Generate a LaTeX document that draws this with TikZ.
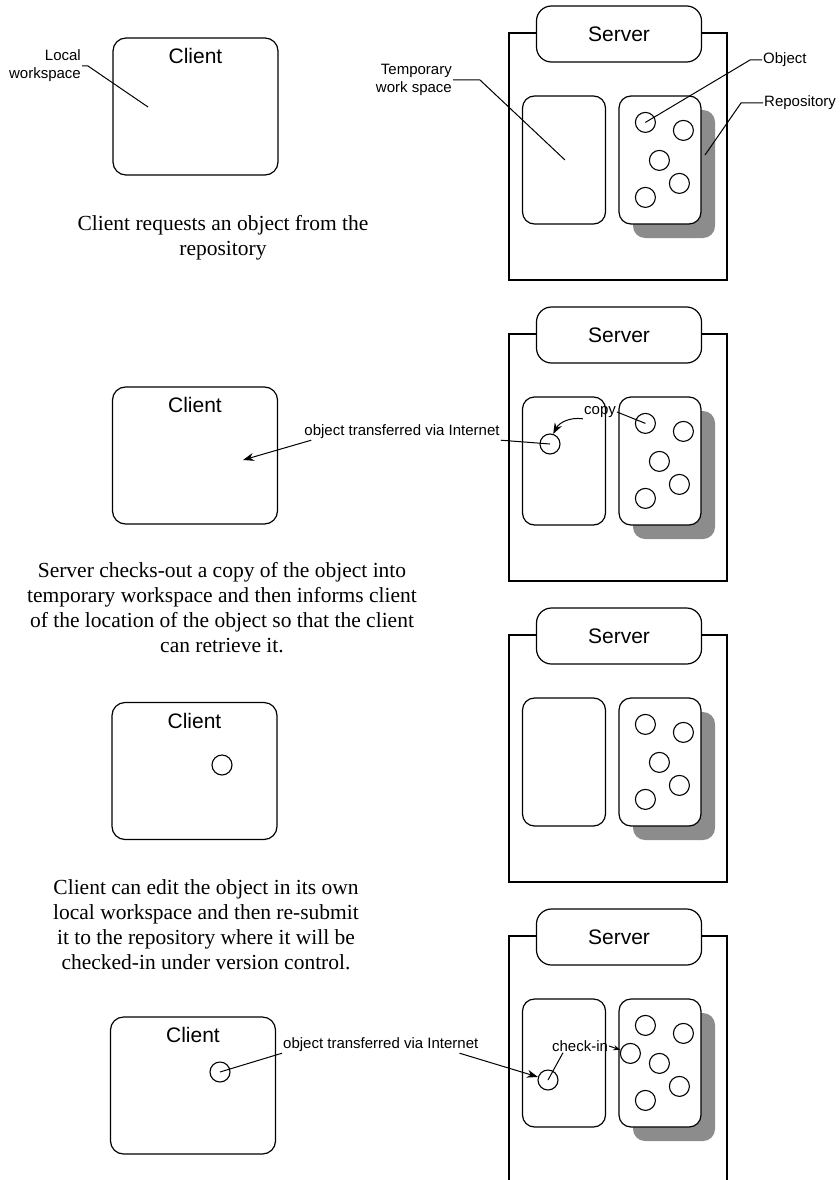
\documentclass[tikz,border=0pt]{standalone}
\usepackage{fontspec}
\setmainfont{Liberation Serif}
\setsansfont{Liberation Sans}
\usepackage{tikz}
\usetikzlibrary{arrows.meta,positioning,calc}

\begin{document}
\begin{tikzpicture}[
    x=1pt, y=-1pt,
    client/.style={rectangle, draw, line width=1.2pt, rounded corners=13pt, minimum width=165pt, minimum height=137pt},
    srvframe/.style={rectangle, draw, line width=1.2pt, fill=white, minimum width=218pt, minimum height=247pt},
    srvbox/.style={rectangle, draw, line width=1.2pt, fill=white, rounded corners=15pt, minimum width=165pt, minimum height=56pt, font=\sffamily\fontsize{21}{25}\selectfont},
    tmpbox/.style={rectangle, draw, line width=1.2pt, fill=white, rounded corners=12pt, minimum width=83pt, minimum height=128pt},
    repobox/.style={tmpbox, minimum width=82pt},
    repshadow/.style={rectangle, fill=black!45, rounded corners=12pt, minimum width=82pt, minimum height=128pt},
    obj/.style={circle, draw, line width=1.1pt, fill=white, minimum size=20pt, inner sep=0pt},
    bigtxt/.style={font=\sffamily\fontsize{21}{25}\selectfont, inner sep=1pt},
    lbl/.style={font=\sffamily\fontsize{15}{18}\selectfont, inner sep=1pt},
    capt/.style={font=\rmfamily\fontsize{21.5}{25}\selectfont, align=center},
    lead/.style={line width=1pt},
    arrow/.style={-{Stealth[length=11pt, width=8pt]}, line width=1pt}
]
    \useasboundingbox (0,0) rectangle (840,1180);

    % server side, same frame four times
    \foreach \i/\t in {1/33,2/334,3/635,4/936} {
        \node [srvframe] (frm\i) at (618,\t+123.5) {};
        \node [repshadow] (shd\i) at (674,\t+141) {};
        \node [tmpbox] (tmp\i) at (564,\t+127) {};
        \node [repobox] (repo\i) at (660,\t+127) {};
        \node [srvbox] (srv\i) at (619,\t+1) {Server};
        \foreach \j/\dx/\dy in {1/27/27,2/65/35,3/41/65,4/61/88,5/27/102}
            \node [obj] (ob\i\j) at ($(repo\i.north west)+(\dx,\dy)$) {};
    }
    \node [obj] (ob46) at ($(repo4.north west)+(12,55)$) {};

    % step 1
    \node [client] (cl1) at (195.5,106.5) {};
    \node [bigtxt, below=10pt of cl1.north] (clt1) {Client};
    \node [lbl, align=right, anchor=east] (lws) at (82,66) {Local\\workspace};
    \coordinate (lwpt) at (148,107);
    \draw [lead] (lws.east) -- ++(6,0) -- (lwpt);
    \node [lbl, align=right, anchor=east] (tws) at (453,80) {Temporary\\work space};
    \coordinate (twpt) at (565,160);
    \draw [lead] (tws.east) -- ++(27,0) -- (twpt);
    \node [lbl, anchor=west] (objl) at (762,60) {Object};
    \draw [lead] (objl.west) -- ++(-12,0) -- (ob11.center);
    \node [lbl, anchor=west] (repl) at (763,103) {Repository};
    \coordinate (rppt) at (705,155);
    \draw [lead] (repl.west) -- ++(-22,0) -- (rppt);
    \node [capt] (cap1) at (223,237.5) {Client requests an object from the\\repository};

    % step 2
    \node [client] (cl2) at (195,455.5) {};
    \node [bigtxt, below=10pt of cl2.north] (clt2) {Client};
    \node [lbl] (xfer2) at (402,432) {object transferred via Internet};
    \coordinate (c2in) at (243,460);
    \draw [arrow] ([xshift=8pt]xfer2.south west) -- (c2in);
    \node [obj] (tc2) at (550,444) {};
    \draw [lead] (xfer2.south east) -- (tc2.center);
    \node [lbl] (copy2) at (600,412) {copy};
    \draw [lead] (copy2.east) -- (ob21.center);
    \draw [arrow] (copy2.south west) to[bend right=35] (tc2);
    \node [capt] (cap2) at (222,607.5) {Server checks-out a copy of the object into\\temporary workspace and then informs client\\of the location of the object so that the client\\can retrieve it.};

    % step 3
    \node [client] (cl3) at (194.5,771) {};
    \node [bigtxt, below=10pt of cl3.north] (clt3) {Client};
    \node [obj] (cc3) at (222,765) {};
    \node [capt] (cap3) at (206,924.5) {Client can edit the object in its own\\local workspace and then re-submit\\it to the repository where it will be\\checked-in under version control.};

    % step 4
    \node [client] (cl4) at (193,1085.5) {};
    \node [bigtxt, below=10pt of cl4.north] (clt4) {Client};
    \node [obj] (cc4) at (220,1072) {};
    \node [lbl, anchor=west] (xfer4) at (282,1045) {object transferred via Internet};
    \draw [lead] (cc4.center) -- (xfer4.south west);
    \node [obj] (tc4) at (548,1080) {};
    \draw [arrow] ([xshift=-20pt]xfer4.south east) -- (tc4);
    \node [lbl] (chk4) at (580,1046) {check-in};
    \draw [lead, -{Stealth[length=7pt, width=5pt]}] (chk4.east) -- (ob46);
    \draw [lead] ([xshift=-17pt]chk4.south) -- (tc4.center);
\end{tikzpicture}
\end{document}
